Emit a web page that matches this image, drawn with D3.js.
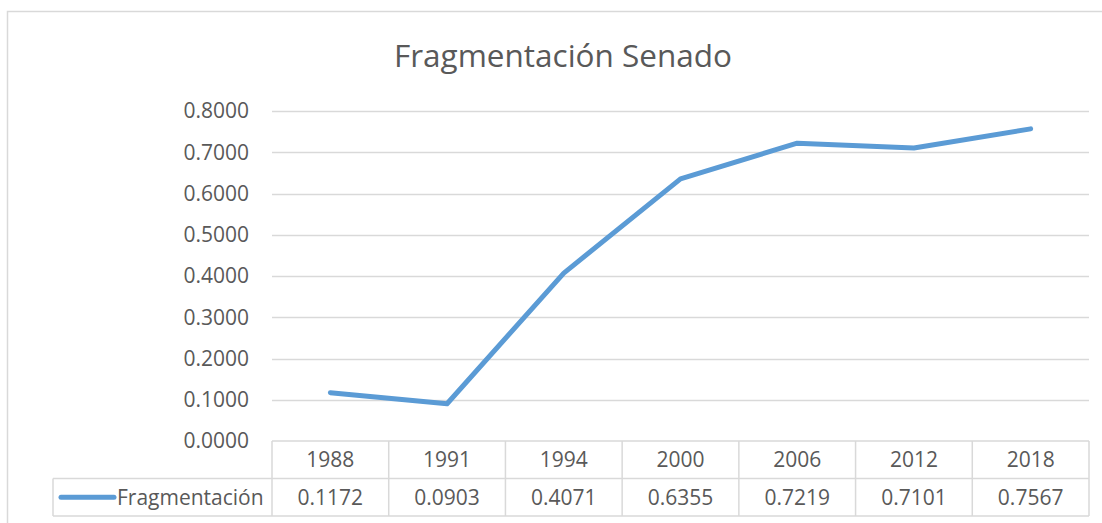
<!DOCTYPE html>
<html>
<head>
<meta charset="utf-8">
<script src="https://d3js.org/d3.v7.min.js"></script>
<style>
  body { margin: 0; background: #fff; }
  svg text { font-family: "Open Sans", sans-serif; fill: #595959; }
</style>
</head>
<body>
<svg id="chart"></svg>
<script>
// Fragmentación Senado
const years  = ["1988", "1991", "1994", "2000", "2006", "2012", "2018"];
const values = [0.1172, 0.0903, 0.4071, 0.6355, 0.7219, 0.7101, 0.7567];
const yTicks = [0, 0.1, 0.2, 0.3, 0.4, 0.5, 0.6, 0.7, 0.8];
const seriesName = "Fragmentación";
const title = "Fragmentación Senado";

const W = 1102, H = 523;
const plot = { left: 272, right: 1089, top: 111, bottom: 441 };
const rowH = 37.5;
const gridColor = "#d9d9d9";
const lineColor = "#5b9bd5";
const fs = 21;

const svg = d3.select("#chart").attr("width", W).attr("height", H);

// chart frame
svg.append("rect")
  .attr("x", 7.5).attr("y", 11.5)
  .attr("width", 1130).attr("height", 540)
  .attr("fill", "none").attr("stroke", gridColor).attr("stroke-width", 1.5);

// title
svg.append("text")
  .attr("x", 563).attr("y", 67)
  .attr("text-anchor", "middle")
  .attr("font-size", 31.5)
  .text(title);

const x = d3.scaleBand().domain(years).range([plot.left, plot.right]);
const y = d3.scaleLinear().domain([0, 0.8]).range([plot.bottom, plot.top]);

// gridlines
svg.selectAll("line.grid")
  .data(yTicks.filter(d => d > 0))
  .enter().append("line")
    .attr("class", "grid")
    .attr("x1", plot.left).attr("x2", plot.right)
    .attr("y1", d => Math.round(y(d)) + 0.5).attr("y2", d => Math.round(y(d)) + 0.5)
    .attr("stroke", gridColor).attr("stroke-width", 1.5);

// y labels
svg.selectAll("text.ytick")
  .data(yTicks)
  .enter().append("text")
    .attr("class", "ytick")
    .attr("x", 249)
    .attr("y", d => y(d))
    .attr("dy", "0.35em")
    .attr("text-anchor", "end")
    .attr("font-size", fs)
    .text(d => d3.format(".4f")(d));

// line
const line = d3.line()
  .x((d, i) => x(years[i]) + x.bandwidth() / 2)
  .y(d => y(d));

svg.append("path")
  .datum(values)
  .attr("d", line)
  .attr("fill", "none")
  .attr("stroke", lineColor)
  .attr("stroke-width", 5)
  .attr("stroke-linecap", "round")
  .attr("stroke-linejoin", "round");

// data table
const t = svg.append("g").attr("class", "table");
const row1 = plot.bottom, row2 = plot.bottom + rowH, row3 = plot.bottom + 2 * rowH;
const legendLeft = 53;

const hl = [
  [plot.left, plot.right, row1],
  [legendLeft, plot.right, row2],
  [legendLeft, plot.right, row3]
];
t.selectAll("line.h").data(hl).enter().append("line")
  .attr("x1", d => d[0]).attr("x2", d => d[1])
  .attr("y1", d => d[2]).attr("y2", d => d[2])
  .attr("stroke", gridColor).attr("stroke-width", 1.5);

const vx = years.map(yr => x(yr)).concat([plot.right]);
t.selectAll("line.v").data(vx).enter().append("line")
  .attr("x1", d => d).attr("x2", d => d)
  .attr("y1", row1).attr("y2", row3)
  .attr("stroke", gridColor).attr("stroke-width", 1.5);
t.append("line")
  .attr("x1", legendLeft).attr("x2", legendLeft)
  .attr("y1", row2).attr("y2", row3)
  .attr("stroke", gridColor).attr("stroke-width", 1.5);

t.selectAll("text.year").data(years).enter().append("text")
  .attr("x", d => x(d) + x.bandwidth() / 2)
  .attr("y", (row1 + row2) / 2).attr("dy", "0.35em")
  .attr("text-anchor", "middle").attr("font-size", fs)
  .text(d => d);

t.selectAll("text.val").data(values).enter().append("text")
  .attr("x", (d, i) => x(years[i]) + x.bandwidth() / 2)
  .attr("y", (row2 + row3) / 2).attr("dy", "0.35em")
  .attr("text-anchor", "middle").attr("font-size", fs)
  .text(d => d3.format(".4f")(d));

// legend key
t.append("line")
  .attr("x1", 61).attr("x2", 114)
  .attr("y1", (row2 + row3) / 2).attr("y2", (row2 + row3) / 2)
  .attr("stroke", lineColor).attr("stroke-width", 5)
  .attr("stroke-linecap", "round");
t.append("text")
  .attr("x", 117).attr("y", (row2 + row3) / 2).attr("dy", "0.35em")
  .attr("font-size", fs)
  .text(seriesName);
</script>
</body>
</html>
